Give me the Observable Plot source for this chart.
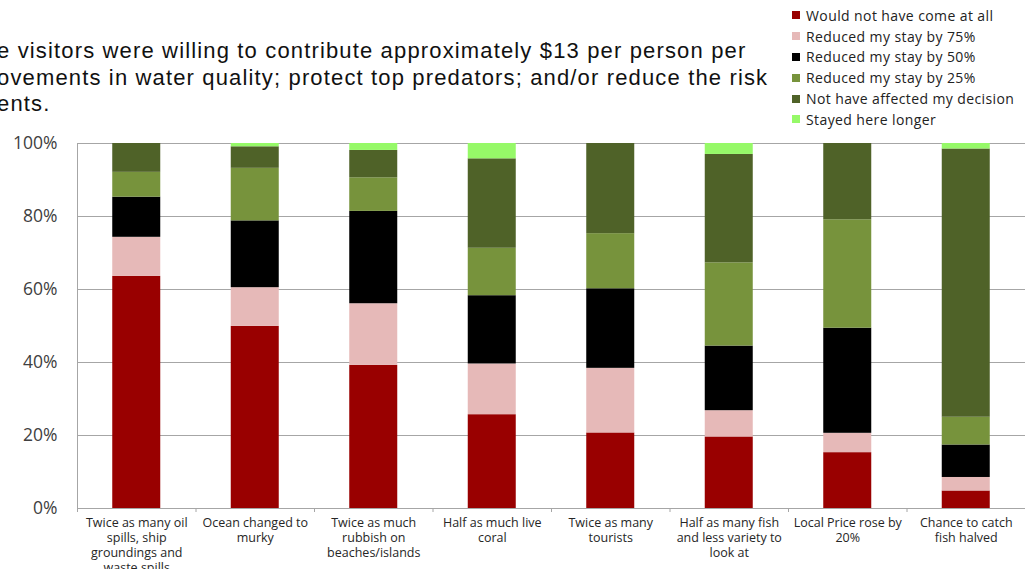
<!DOCTYPE html>
<html><head><meta charset="utf-8">
<script src="https://cdn.jsdelivr.net/npm/d3@7"></script>
<script src="https://cdn.jsdelivr.net/npm/@observablehq/plot@0.6"></script>
<style>
html,body{margin:0;padding:0;background:#fff;overflow:hidden;}
#wrap{position:relative;width:1025px;height:569px;overflow:hidden;background:#fff;}
#chart{position:absolute;left:0;top:0;}
#note{position:absolute;left:-3px;top:38px;font-family:"Liberation Sans",Arial,sans-serif;font-size:22px;letter-spacing:1.15px;line-height:26.5px;color:#111;white-space:nowrap;}
#legend{position:absolute;left:790px;top:5px;font-family:"Open Sans",sans-serif;font-size:14px;letter-spacing:0.4px;color:#222;}
.row{height:20.8px;display:flex;align-items:center;white-space:nowrap;}
.sw{width:8px;height:8px;margin-left:2px;margin-right:6px;flex:none;}
</style></head>
<body>
<div id="wrap">
  <div id="chart"></div>
  <div id="note"></div>
  <div id="legend"></div>
</div>
<script>
// ---- data ----
const categories = [
  "Twice as many oil\nspills, ship\ngroundings and\nwaste spills",
  "Ocean changed to\nmurky",
  "Twice as much\nrubbish on\nbeaches/islands",
  "Half as much live\ncoral",
  "Twice as many\ntourists",
  "Half as many fish\nand less variety to\nlook at",
  "Local Price rose by\n20%",
  "Chance to catch\nfish halved"
];
const seriesNames = [
  "Would not have come at all",
  "Reduced my stay by 75%",
  "Reduced my stay by 50%",
  "Reduced my stay by 25%",
  "Not have affected my decision",
  "Stayed here longer"
];
const seriesColors = ["#990000", "#e6b9b8", "#000000", "#77933c", "#4f6228", "#96f968"];
const wouldNotCome = [63.6, 49.9, 39.2, 25.7, 20.7, 19.6, 15.3, 4.8];
const reduced75    = [10.7, 10.6, 16.9, 13.9, 17.7, 7.2, 5.3, 3.7];
const reduced50    = [11.0, 18.3, 25.3, 18.7, 21.8, 17.7, 28.8, 8.9];
const reduced25    = [6.8, 14.4, 9.2, 13.0, 15.1, 22.8, 29.7, 7.6];
const notAffected  = [7.9, 5.9, 7.5, 24.5, 24.7, 29.7, 20.9, 73.5];
const stayedLonger = [0, 0.9, 1.9, 4.2, 0, 3.0, 0, 1.5];
const yTicks = [0, 20, 40, 60, 80, 100];
const noteLines = [
  "e visitors were willing to contribute approximately $13 per person per",
  "ovements in water quality; protect top predators; and/or reduce the risk",
  "ents."
];

// ---- build table ----
const seriesValues = [wouldNotCome, reduced75, reduced50, reduced25, notAffected, stayedLonger];
const rows = [];
categories.forEach((c, i) => {
  let acc = 0;
  seriesValues.forEach((vals, s) => {
    const v = vals[i];
    rows.push({i, category: c, series: seriesNames[s], y1: acc, y2: acc + v});
    acc += v;
  });
});

const chart = Plot.plot({
  width: 1025,
  height: 569,
  marginTop: 143,
  marginBottom: 61,
  marginLeft: 77,
  marginRight: 0,
  style: {fontFamily: "'Open Sans', sans-serif", background: "white", overflow: "visible"},
  x: {domain: [0, categories.length], axis: null},
  y: {domain: [0, 100], axis: null},
  color: {domain: seriesNames, range: seriesColors},
  marks: [
    Plot.gridY(yTicks, {stroke: "#a6a6a6", strokeOpacity: 1, strokeWidth: 1}),
    Plot.rectY(rows.filter(d => d.y2 > d.y1), {
      x1: "i", x2: d => d.i + 1, y1: "y1", y2: "y2", fill: "series",
      insetLeft: 35.25, insetRight: 35.25
    }),
    Plot.ruleX([0], {y1: 0, y2: 100, stroke: "#a6a6a6"}),
    Plot.ruleY([0], {stroke: "#a6a6a6"}),
    Plot.axisY(yTicks, {tickFormat: d => d + "%", tickSize: 0, tickPadding: 20, fontSize: 17.5, fill: "#404040", label: null}),
    Plot.axisX(d3.range(0, categories.length + 1), {tickFormat: () => "", tickSize: 4, stroke: "#a6a6a6", label: null}),
    Plot.text(categories, {
      x: (d, i) => i + 0.5, frameAnchor: "bottom", dy: 8, lineAnchor: "top",
      text: d => d, fontSize: 12.5, lineHeight: 1.2, fill: "#262626", textAnchor: "middle"
    })
  ]
});
document.getElementById("chart").appendChild(chart);

document.getElementById("note").innerHTML = noteLines.map(l => `<div>${l}</div>`).join("");
document.getElementById("legend").innerHTML = seriesNames.map((n, s) =>
  `<div class="row"><span class="sw" style="background:${seriesColors[s]}"></span><span>${n}</span></div>`).join("");
</script>
</body></html>
